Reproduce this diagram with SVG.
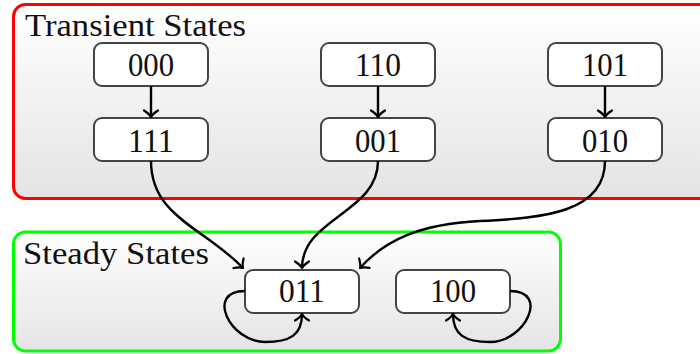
<svg xmlns="http://www.w3.org/2000/svg" width="700" height="354" viewBox="0 0 700 354">
<defs>
<linearGradient id="grad" x1="0" y1="0" x2="0" y2="1">
<stop offset="0" stop-color="#ffffff"/>
<stop offset="1" stop-color="#e4e4e4"/>
</linearGradient>
<marker id="arr" markerUnits="userSpaceOnUse" markerWidth="20" markerHeight="20" viewBox="-10 -10 20 20" refX="0" refY="0" orient="auto">
<path d="M-6.5,-7 Q-3,-1.5 0,0 Q-3,1.5 -6.5,7" fill="none" stroke="#000" stroke-width="2.2" stroke-linecap="round" stroke-linejoin="round"/>
</marker>
</defs>
<style>
.grp{fill:url(#grad);stroke-width:3}
.node rect{fill:#fff;stroke:#444;stroke-width:2}
.node text{font-family:"Liberation Serif","Times New Roman",serif;font-size:33px;fill:#111;text-anchor:middle}
.title{font-family:"Liberation Serif","Times New Roman",serif;font-size:31px;fill:#111}
.edge{fill:none;stroke:#000;stroke-width:2.4;marker-end:url(#arr)}
</style>
<g id="transient">
<rect class="grp" x="13.5" y="4.5" width="700" height="194" rx="12" stroke="#ff0000"/>
<text class="title" x="25" y="36" textLength="221" lengthAdjust="spacingAndGlyphs">Transient States</text>
</g>
<g id="steady">
<rect class="grp" x="13.5" y="232" width="547" height="119" rx="12" stroke="#00ff00"/>
<text class="title" x="23" y="264" textLength="186" lengthAdjust="spacingAndGlyphs">Steady States</text>
</g>
<g id="n000" class="node"><rect x="94" y="43" width="114" height="43" rx="8"/><text x="151" y="76" textLength="46" lengthAdjust="spacingAndGlyphs">000</text></g>
<g id="n110" class="node"><rect x="321" y="43" width="114" height="43" rx="8"/><text x="378" y="76" textLength="46" lengthAdjust="spacingAndGlyphs">110</text></g>
<g id="n101" class="node"><rect x="548" y="43" width="114" height="43" rx="8"/><text x="605" y="76" textLength="46" lengthAdjust="spacingAndGlyphs">101</text></g>
<g id="n111" class="node"><rect x="94" y="118" width="114" height="43" rx="8"/><text x="151" y="152" textLength="46" lengthAdjust="spacingAndGlyphs">111</text></g>
<g id="n001" class="node"><rect x="321" y="118" width="114" height="43" rx="8"/><text x="378" y="152" textLength="46" lengthAdjust="spacingAndGlyphs">001</text></g>
<g id="n010" class="node"><rect x="548" y="118" width="114" height="43" rx="8"/><text x="605" y="152" textLength="46" lengthAdjust="spacingAndGlyphs">010</text></g>
<g id="n011" class="node"><rect x="245" y="270" width="114" height="43" rx="8"/><text x="302" y="302" textLength="46" lengthAdjust="spacingAndGlyphs">011</text></g>
<g id="n100" class="node"><rect x="396" y="270" width="114" height="43" rx="8"/><text x="453" y="302" textLength="46" lengthAdjust="spacingAndGlyphs">100</text></g>
<g id="connectors">
<path class="edge" d="M151,86 L151,117"/>
<path class="edge" d="M378,86 L378,117"/>
<path class="edge" d="M605,86 L605,117"/>
<path class="edge" d="M151,161 C151,217 205,228 243,268"/>
<path class="edge" d="M378,161 C378,213 302,218 302,268"/>
<path class="edge" d="M605,161 C605,212 545,218 480,221 C420,224 385,240 360,268"/>
<path class="edge" d="M245,291 C205,291 230,342 265,342 C290,342 302,335 302,314"/>
<path class="edge" d="M510,291 C550,291 525,342 490,342 C465,342 453,335 453,314"/>
</g>
</svg>
